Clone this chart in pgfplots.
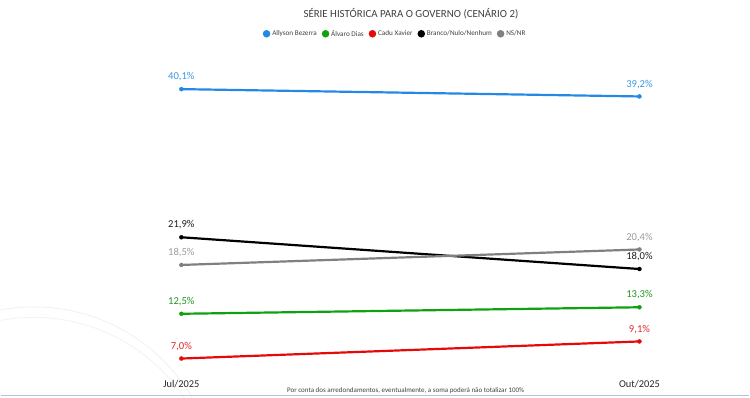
\documentclass[border=0pt]{standalone}
\usepackage{fontspec}
\setmainfont{Carlito}
\usepackage{pgfplots}
\pgfplotsset{compat=1.18}
\definecolor{cblue}{RGB}{36,137,228}
\definecolor{cbluel}{RGB}{60,150,225}
\definecolor{cgreen}{RGB}{16,160,16}
\definecolor{cgreenl}{RGB}{30,150,30}
\definecolor{cred}{RGB}{228,10,10}
\definecolor{credl}{RGB}{225,40,40}
\definecolor{cblack}{RGB}{0,0,0}
\definecolor{cblackl}{RGB}{30,30,30}
\definecolor{cgray}{RGB}{128,128,128}
\definecolor{cgrayl}{RGB}{155,155,155}
\definecolor{ctitle}{RGB}{64,64,64}
\definecolor{cbottom}{RGB}{180,198,212}
\begin{document}
\begin{tikzpicture}
\begin{scope}
\clip (0,0) rectangle (750pt,398pt);
\draw[color=black!6, line width=0.8pt] (33pt,-93.5pt) circle (184pt);
\draw[color=black!5, line width=0.8pt] (33pt,-101.4pt) circle (181.4pt);
\end{scope}
\begin{axis}[
  at={(0,0)}, anchor=south west,
  scale only axis, width=750pt, height=398pt,
  xmin=-0.3943, xmax=1.2397, ymin=2.25, ymax=51.05,
  hide axis,
  clip=false,
  legend style={at={(0.527,0.915)}, anchor=center, draw=none, fill=none,
    legend columns=5, font=\fontsize{7.2}{8}\selectfont, text=ctitle,
    /tikz/every even column/.append style={column sep=3pt},
    inner sep=0pt, row sep=0pt},
  legend image code/.code={\fill[#1] (0.17cm,0pt) circle (2.6pt);},
  every axis plot/.append style={line width=2.2pt, mark=*, mark size=2pt,
    mark options={line width=0.4pt},
    nodes near coords={\pgfplotspointmeta\%}, point meta=explicit symbolic},
  nodes near coords style={font=\fontsize{10.6}{12}\selectfont, anchor=base, yshift=9.3pt},
]
\addplot[cblue, nodes near coords style={text=cbluel}] table[meta=l] {
x y l
0 40.1 40,1
1 39.2 39,2
};
\addlegendentry{Allyson Bezerra}
\addplot[cgreen, nodes near coords style={text=cgreenl}] table[meta=l] {
x y l
0 12.5 12,5
1 13.3 13,3
};
\addlegendentry{Álvaro Dias}
\addplot[cred, nodes near coords style={text=credl}] table[meta=l] {
x y l
0 7.0 7,0
1 9.1 9,1
};
\addlegendentry{Cadu Xavier}
\addplot[cblack, nodes near coords style={text=cblackl}] table[meta=l] {
x y l
0 21.9 21,9
1 18.0 18,0
};
\addlegendentry{Branco/Nulo/Nenhum}
\addplot[cgray, nodes near coords style={text=cgrayl}] table[meta=l] {
x y l
0 18.5 18,5
1 20.4 20,4
};
\addlegendentry{NS/NR}
\node[font=\fontsize{10.9}{12}\selectfont, text=ctitle] at (rel axis cs:0.548,0.965) {SÉRIE HISTÓRICA PARA O GOVERNO (CENÁRIO 2)};
\node[font=\fontsize{10.4}{12}\selectfont, text=black!85] at (rel axis cs:0.2413,0.0327) {Jul/2025};
\node[font=\fontsize{10.4}{12}\selectfont, text=black!85] at (rel axis cs:0.8533,0.0327) {Out/2025};
\node[font=\fontsize{7}{8}\selectfont, text=ctitle] at (rel axis cs:0.541,0.0176) {Por conta dos arredondamentos, eventualmente, a soma poderá não totalizar 100\%};
\draw[cbottom, line width=1.5pt] (rel axis cs:0,0.004) -- (rel axis cs:1,0.004);
\end{axis}
\end{tikzpicture}
\end{document}
